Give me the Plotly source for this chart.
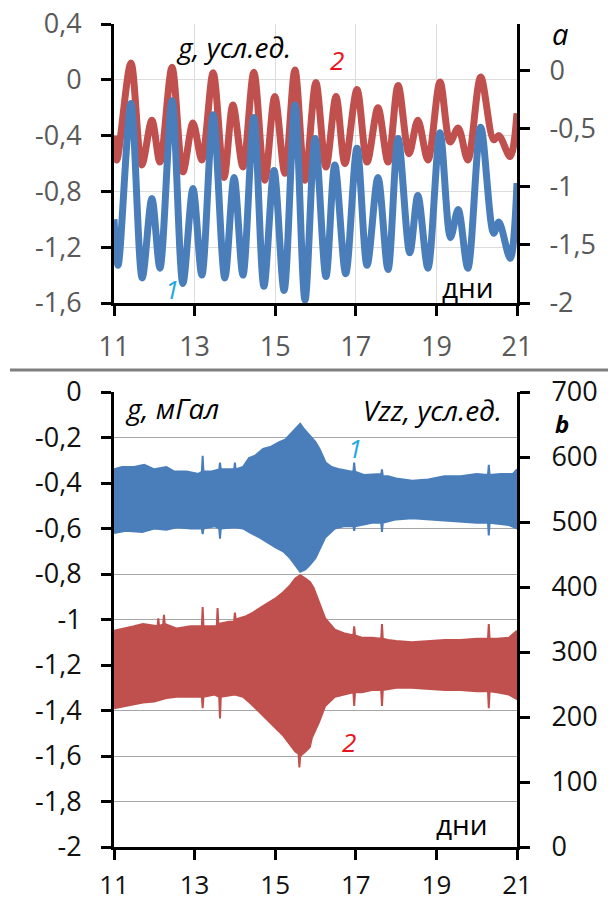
import plotly.graph_objects as go

# ---------------- data ----------------
# Panel a: tidal gravity curves (days, g in conventional units)
a1_days = [11.00, 11.10, 11.42, 11.70, 11.94, 12.14, 12.44, 12.71, 12.96, 13.18,
           13.46, 13.75, 13.98, 14.20, 14.47, 14.72, 14.97, 15.22, 15.49, 15.74,
           15.99, 16.26, 16.48, 16.75, 17.03, 17.28, 17.55, 17.80, 18.05, 18.34,
           18.54, 18.79, 19.09, 19.35, 19.54, 19.78, 20.10, 20.42, 20.55, 20.83, 21.00]
a1_vals = [-1.00, -1.33, -0.17, -1.42, -0.85, -1.35, -0.15, -1.46, -0.78, -1.40,
           -0.25, -1.42, -0.70, -1.40, -0.27, -1.48, -0.65, -1.51, -0.18, -1.58,
           -0.42, -1.41, -0.61, -1.39, -0.49, -1.33, -0.70, -1.36, -0.42, -1.24,
           -0.83, -1.35, -0.38, -1.13, -0.93, -1.35, -0.34, -1.10, -1.02, -1.28, -0.74]

a2_days = [11.00, 11.07, 11.42, 11.69, 11.94, 12.14, 12.44, 12.71, 12.96, 13.18,
           13.46, 13.73, 13.95, 14.20, 14.47, 14.74, 14.99, 15.24, 15.49, 15.74,
           16.01, 16.26, 16.51, 16.73, 17.03, 17.28, 17.55, 17.80, 18.05, 18.32,
           18.54, 18.79, 19.09, 19.34, 19.54, 19.78, 20.10, 20.42, 20.55, 20.83, 21.00]
a2_vals = [-0.40, -0.575, 0.12, -0.61, -0.29, -0.59, 0.09, -0.66, -0.31, -0.575,
           0.05, -0.70, -0.18, -0.625, 0.055, -0.72, -0.12, -0.67, 0.07, -0.72,
           -0.02, -0.625, -0.12, -0.60, -0.07, -0.59, -0.20, -0.59, -0.04, -0.53,
           -0.29, -0.575, -0.015, -0.445, -0.345, -0.575, 0.02, -0.43, -0.40, -0.55, -0.24]

# Panel b: envelopes of the dense signals (days, g in mGal)
b1_up_days = [11.00, 11.20, 11.50, 11.75, 12.00, 12.30, 12.50, 12.80, 13.10, 13.18, 13.20, 13.22,
              13.40, 13.61, 13.63, 13.65, 13.90, 13.98, 14.00, 14.02, 14.20, 14.35, 14.50, 14.70,
              14.90, 15.10, 15.25, 15.40, 15.55, 15.62, 15.70, 15.85, 16.00, 16.10, 16.25, 16.40,
              16.60, 16.90, 16.94, 16.96, 16.98, 17.20, 17.50, 17.63, 17.65, 17.67, 17.80, 18.00,
              18.40, 18.80, 19.20, 19.60, 20.00, 20.25, 20.28, 20.30, 20.32, 20.60, 20.90, 21.00]
b1_up_vals = [-0.34, -0.33, -0.33, -0.32, -0.34, -0.33, -0.35, -0.35, -0.36, -0.35, -0.28, -0.35,
              -0.35, -0.34, -0.31, -0.34, -0.34, -0.34, -0.31, -0.34, -0.33, -0.29, -0.28, -0.25,
              -0.24, -0.22, -0.21, -0.18, -0.15, -0.14, -0.16, -0.19, -0.22, -0.25, -0.31, -0.33,
              -0.34, -0.35, -0.35, -0.31, -0.35, -0.365, -0.36, -0.36, -0.34, -0.37, -0.37, -0.38,
              -0.39, -0.385, -0.37, -0.37, -0.36, -0.365, -0.365, -0.32, -0.365, -0.36, -0.36, -0.34]

b1_lo_days = [11.00, 11.30, 11.70, 12.00, 12.30, 12.56, 12.90, 13.18, 13.20, 13.22, 13.50, 13.61,
              13.63, 13.65, 14.00, 14.20, 14.40, 14.62, 14.80, 15.03, 15.20, 15.37, 15.50, 15.62,
              15.75, 15.86, 16.00, 16.09, 16.24, 16.48, 16.70, 16.94, 16.96, 16.98, 17.10, 17.40,
              17.63, 17.65, 17.67, 17.80, 18.00, 18.40, 18.80, 19.20, 19.60, 20.00, 20.28, 20.30,
              20.32, 20.50, 20.80, 21.00]
b1_lo_vals = [-0.62, -0.61, -0.615, -0.60, -0.605, -0.595, -0.60, -0.60, -0.625, -0.60, -0.59, -0.60,
              -0.645, -0.60, -0.595, -0.60, -0.62, -0.64, -0.66, -0.685, -0.70, -0.73, -0.76, -0.79,
              -0.78, -0.76, -0.73, -0.70, -0.64, -0.60, -0.59, -0.59, -0.61, -0.59, -0.585, -0.575,
              -0.575, -0.615, -0.575, -0.57, -0.56, -0.555, -0.56, -0.565, -0.57, -0.575, -0.575, -0.63,
              -0.575, -0.58, -0.585, -0.60]

b2_up_days = [11.00, 11.30, 11.50, 11.72, 12.00, 12.08, 12.10, 12.12, 12.22, 12.24, 12.26, 12.56,
              12.90, 13.18, 13.20, 13.22, 13.50, 13.55, 13.57, 13.59, 13.85, 13.98, 14.00, 14.02,
              14.28, 14.45, 14.62, 14.80, 15.03, 15.20, 15.37, 15.50, 15.62, 15.75, 15.86, 15.95,
              16.09, 16.24, 16.48, 16.70, 16.94, 16.96, 16.98, 17.15, 17.40, 17.63, 17.65, 17.67,
              17.80, 18.00, 18.39, 18.80, 19.21, 19.60, 20.00, 20.28, 20.30, 20.32, 20.50, 20.80, 21.00]
b2_up_vals = [-1.05, -1.04, -1.03, -1.02, -1.03, -1.03, -0.995, -1.03, -1.02, -0.98, -1.02, -1.04,
              -1.03, -1.03, -0.945, -1.03, -1.03, -1.03, -0.95, -1.02, -1.01, -1.01, -0.97, -1.00,
              -0.985, -0.97, -0.95, -0.93, -0.905, -0.88, -0.85, -0.82, -0.805, -0.82, -0.835, -0.86,
              -0.925, -0.995, -1.045, -1.06, -1.07, -1.03, -1.07, -1.08, -1.08, -1.085, -1.02, -1.085,
              -1.09, -1.095, -1.10, -1.095, -1.09, -1.09, -1.085, -1.085, -1.02, -1.085, -1.085, -1.08, -1.05]

b2_lo_days = [11.00, 11.30, 11.72, 12.00, 12.30, 12.56, 12.90, 13.18, 13.20, 13.22, 13.50, 13.61,
              13.63, 13.65, 14.00, 14.20, 14.40, 14.62, 14.80, 15.03, 15.20, 15.37, 15.50, 15.58,
              15.60, 15.62, 15.75, 15.86, 15.91, 16.09, 16.24, 16.48, 16.70, 16.94, 16.96, 16.98,
              17.15, 17.40, 17.63, 17.65, 17.67, 17.80, 18.00, 18.39, 18.80, 19.21, 19.60, 20.00,
              20.28, 20.30, 20.32, 20.50, 20.80, 21.00]
b2_lo_vals = [-1.39, -1.38, -1.365, -1.36, -1.345, -1.34, -1.34, -1.34, -1.39, -1.34, -1.33, -1.34,
              -1.435, -1.34, -1.33, -1.34, -1.37, -1.41, -1.44, -1.48, -1.51, -1.55, -1.58, -1.59,
              -1.65, -1.60, -1.58, -1.56, -1.52, -1.45, -1.38, -1.34, -1.33, -1.32, -1.38, -1.32,
              -1.32, -1.31, -1.31, -1.38, -1.31, -1.305, -1.30, -1.30, -1.305, -1.31, -1.31, -1.315,
              -1.315, -1.39, -1.315, -1.32, -1.33, -1.35]

# ticks
x_ticks = [11, 13, 15, 17, 19, 21]
a_left_vals = [0.4, 0, -0.4, -0.8, -1.2, -1.6]
a_left_text = ["0,4", "0", "-0,4", "-0,8", "-1,2", "-1,6"]
a_right_vals = [0, -0.5, -1, -1.5, -2]
a_right_text = ["0", "-0,5", "-1", "-1,5", "-2"]
b_left_vals = [0, -0.2, -0.4, -0.6, -0.8, -1, -1.2, -1.4, -1.6, -1.8, -2]
b_left_text = ["0", "-0,2", "-0,4", "-0,6", "-0,8", "-1", "-1,2", "-1,4", "-1,6", "-1,8", "-2"]
b_right_vals = [0, 100, 200, 300, 400, 500, 600, 700]

# ---------------- figure ----------------
W, H = 608, 902
def px(x):
    return x / W
def py(y):
    return 1 - y / H

BLUE = "#4a7ebb"
RED = "#c0504d"
FONT = "Open Sans"

fig = go.Figure()

fig.add_trace(go.Scatter(x=a2_days, y=a2_vals, mode="lines", line=dict(color=RED, width=7, shape="spline", smoothing=0.9),
                         xaxis="x", yaxis="y", showlegend=False, hoverinfo="skip"))
fig.add_trace(go.Scatter(x=a1_days, y=a1_vals, mode="lines", line=dict(color=BLUE, width=7, shape="spline", smoothing=0.9),
                         xaxis="x", yaxis="y", showlegend=False, hoverinfo="skip"))
fig.add_trace(go.Scatter(x=[None], y=[None], xaxis="x", yaxis="y2", showlegend=False))

fig.add_trace(go.Scatter(x=b1_up_days + b1_lo_days[::-1], y=b1_up_vals + b1_lo_vals[::-1],
                         mode="lines", fill="toself", fillcolor=BLUE, line=dict(color=BLUE, width=2),
                         xaxis="x2", yaxis="y3", showlegend=False, hoverinfo="skip"))
fig.add_trace(go.Scatter(x=b2_up_days + b2_lo_days[::-1], y=b2_up_vals + b2_lo_vals[::-1],
                         mode="lines", fill="toself", fillcolor=RED, line=dict(color=RED, width=2),
                         xaxis="x2", yaxis="y3", showlegend=False, hoverinfo="skip"))
fig.add_trace(go.Scatter(x=[None], y=[None], xaxis="x2", yaxis="y4", showlegend=False))

xdom = [px(114), px(517)]
dom_a = [py(303), py(24)]
dom_b = [py(847), py(392)]

axis_common = dict(showline=True, linecolor="black", linewidth=3, ticks="outside",
                   ticklen=10, tickwidth=3, tickcolor="black", zeroline=False, automargin=False)

grey_font = dict(family=FONT, size=27, color="#595959")
black_font = dict(family=FONT, size=27, color="#111111")
black_font_x = dict(family=FONT, size=26, color="#111111")

fig.update_layout(
    width=W, height=H, autosize=False,
    margin=dict(l=0, r=0, t=0, b=0, autoexpand=False),
    paper_bgcolor="white", plot_bgcolor="white",
    xaxis=dict(domain=xdom, anchor="y", range=[11, 21], tickvals=x_ticks,
               showgrid=True, gridcolor="#dcdcdc", gridwidth=1, tickfont=grey_font,
               ticklabelstandoff=8, **axis_common),
    yaxis=dict(domain=dom_a, anchor="x", range=[-1.6, 0.4], tickvals=a_left_vals, ticktext=a_left_text,
               showgrid=True, gridcolor="#dcdcdc", gridwidth=1, tickfont=grey_font,
               ticklabelstandoff=14, **axis_common),
    yaxis2=dict(anchor="x", overlaying="y", side="right", range=[-2, 0.4], tickvals=a_right_vals,
                ticktext=a_right_text, showgrid=False, tickfont=grey_font, ticklabelstandoff=14, **axis_common),
    xaxis2=dict(domain=xdom, anchor="y3", range=[11, 21], tickvals=x_ticks, showgrid=False,
                tickfont=black_font_x, ticklabelstandoff=3, **axis_common),
    yaxis3=dict(domain=dom_b, anchor="x2", range=[-2, 0], tickvals=b_left_vals, ticktext=b_left_text,
                showgrid=True, gridcolor="#a6a6a6", gridwidth=1, tickfont=black_font,
                ticklabelstandoff=14, **axis_common),
    yaxis4=dict(anchor="x2", overlaying="y3", side="right", range=[0, 700], tickvals=b_right_vals,
                showgrid=False, tickfont=black_font, ticklabelstandoff=16, **axis_common),
)

# separator line between panels
fig.add_shape(type="line", xref="paper", yref="paper", x0=px(10), x1=1, y0=py(370), y1=py(370),
              line=dict(color="#7f7f7f", width=3))

def ann(text, x, y, size=28, color="black", style="normal", weight="normal"):
    fig.add_annotation(text=text, xref="paper", yref="paper", x=px(x), y=py(y),
                       xanchor="center", yanchor="middle", showarrow=False,
                       font=dict(family=FONT, size=size, color=color, style=style, weight=weight))

ann("g, усл.ед.", 233, 47, style="italic")
ann("2", 337, 60, size=26, color="#e8141c", style="italic")
ann("1", 172, 289, size=26, color="#1fa8e0", style="italic")
ann("дни", 468, 287)
ann("a", 560, 33, size=29, style="italic")

ann("g, мГал", 172, 408, style="italic")
ann("Vzz, усл.ед.", 432, 410, style="italic")
ann("b", 562, 423, size=24, style="italic", weight="bold")
ann("1", 355, 448, size=26, color="#1fa8e0", style="italic")
ann("2", 349, 742, size=26, color="#e8141c", style="italic")
ann("дни", 462, 824)

fig.write_html("out.html")
